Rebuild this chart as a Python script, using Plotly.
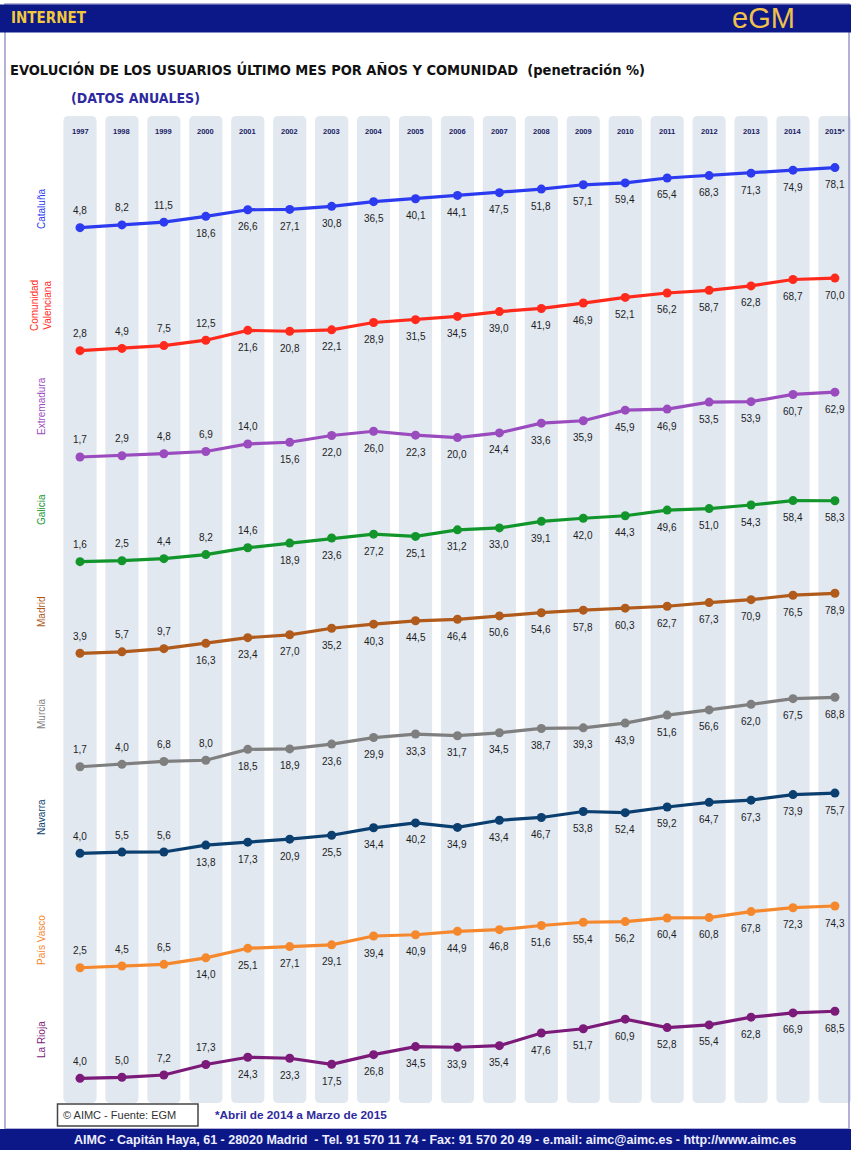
import plotly.graph_objects as go

# ---------------- data ----------------
years = ["1997", "1998", "1999", "2000", "2001", "2002", "2003", "2004", "2005", "2006",
         "2007", "2008", "2009", "2010", "2011", "2012", "2013", "2014", "2015*"]

regions = ["Cataluña", "Comunidad<br>Valenciana", "Extremadura", "Galicia", "Madrid",
           "Murcia", "Navarra", "País Vasco", "La Rioja"]

cataluna = [4.8, 8.2, 11.5, 18.6, 26.6, 27.1, 30.8, 36.5, 40.1, 44.1, 47.5, 51.8, 57.1, 59.4, 65.4, 68.3, 71.3, 74.9, 78.1]
valenciana = [2.8, 4.9, 7.5, 12.5, 21.6, 20.8, 22.1, 28.9, 31.5, 34.5, 39.0, 41.9, 46.9, 52.1, 56.2, 58.7, 62.8, 68.7, 70.0]
extremadura = [1.7, 2.9, 4.8, 6.9, 14.0, 15.6, 22.0, 26.0, 22.3, 20.0, 24.4, 33.6, 35.9, 45.9, 46.9, 53.5, 53.9, 60.7, 62.9]
galicia = [1.6, 2.5, 4.4, 8.2, 14.6, 18.9, 23.6, 27.2, 25.1, 31.2, 33.0, 39.1, 42.0, 44.3, 49.6, 51.0, 54.3, 58.4, 58.3]
madrid = [3.9, 5.7, 9.7, 16.3, 23.4, 27.0, 35.2, 40.3, 44.5, 46.4, 50.6, 54.6, 57.8, 60.3, 62.7, 67.3, 70.9, 76.5, 78.9]
murcia = [1.7, 4.0, 6.8, 8.0, 18.5, 18.9, 23.6, 29.9, 33.3, 31.7, 34.5, 38.7, 39.3, 43.9, 51.6, 56.6, 62.0, 67.5, 68.8]
navarra = [4.0, 5.5, 5.6, 13.8, 17.3, 20.9, 25.5, 34.4, 40.2, 34.9, 43.4, 46.7, 53.8, 52.4, 59.2, 64.7, 67.3, 73.9, 75.7]
pais_vasco = [2.5, 4.5, 6.5, 14.0, 25.1, 27.1, 29.1, 39.4, 40.9, 44.9, 46.8, 51.6, 55.4, 56.2, 60.4, 60.8, 67.8, 72.3, 74.3]
la_rioja = [4.0, 5.0, 7.2, 17.3, 24.3, 23.3, 17.5, 26.8, 34.5, 33.9, 35.4, 47.6, 51.7, 60.9, 52.8, 55.4, 62.8, 66.9, 68.5]

series = [cataluna, valenciana, extremadura, galicia, madrid, murcia, navarra, pais_vasco, la_rioja]

# ---------------- styling / layout (pixels) ----------------
W, H = 851, 1150
colors = ["#2d3bf0", "#ff2a1c", "#9a4cbf", "#12962c", "#b05a1c", "#7f7f7f", "#0b3f6f", "#f5882c", "#7b1a79"]
label_colors = colors
zero_px = [231.6, 353.7, 458.8, 563.4, 656.4, 768.5, 856.7, 969.9, 1082.5]
scale_px = [0.82, 1.08, 1.06, 1.075, 0.80, 1.035, 0.84, 0.86, 1.04]
n_above = [3, 4, 5, 5, 3, 4, 3, 3, 4]
label_center_px = [209, 306, 406, 510, 612, 714, 817, 940, 1040]

x0_px, step_px = 80.0, 41.94
NARROW = "Liberation Sans Narrow, DejaVu Sans Condensed, Arial Narrow, sans-serif"
SANS = "Liberation Sans, Arial, sans-serif"


def pxx(p):
    return p / W


def pyy(p):
    return 1 - p / H


fig = go.Figure()

layout = dict(
    width=W, height=H,
    margin=dict(l=0, r=0, t=0, b=0),
    paper_bgcolor="white", plot_bgcolor="rgba(0,0,0,0)",
    showlegend=False,
    xaxis=dict(domain=[0, 1], range=[-x0_px / step_px, (W - x0_px) / step_px],
               visible=False, fixedrange=True),
)

annotations = []
shapes = []

for k, vals in enumerate(series):
    yname = "y" if k == 0 else f"y{k + 1}"
    axname = "yaxis" if k == 0 else f"yaxis{k + 1}"
    z, s = zero_px[k], scale_px[k]
    layout[axname] = dict(domain=[pyy(z + 8), pyy(z - s * 85)], range=[-8 / s, 85],
                          visible=False, anchor="x", fixedrange=True)
    xs = list(range(len(years)))
    fig.add_trace(go.Scatter(
        x=xs, y=vals, xaxis="x", yaxis=yname, mode="lines+markers",
        line=dict(color=colors[k], width=3.2),
        marker=dict(color=colors[k], size=9),
        cliponaxis=False, hoverinfo="skip",
    ))
    for i, v in enumerate(vals):
        annotations.append(dict(
            x=i, y=v, xref="x", yref=yname, showarrow=False,
            xanchor="center", yanchor="middle",
            text=f"{v:.1f}".replace(".", ","),
            yshift=17 if i < n_above[k] else -17,
            font=dict(family=SANS, size=10, color="#1e1e1e"),
        ))
    # region label (rotated)
    annotations.append(dict(
        x=pxx(41), y=pyy(label_center_px[k]), xref="paper", yref="paper",
        xanchor="center", yanchor="middle",
        text=regions[k], textangle=-90, showarrow=False,
        font=dict(family=SANS, size=10, color=label_colors[k]),
        align="center",
    ))

# year columns (rounded rectangles positioned on the x axis)
col_top, col_bot = pyy(116), pyy(1103)
hw, rx, ry = 0.395, 0.12, 5 / H
for i, yr in enumerate(years):
    a, b = i - hw, i + hw
    path = (f"M {a + rx},{col_top} L {b - rx},{col_top} Q {b},{col_top} {b},{col_top - ry} "
            f"L {b},{col_bot + ry} Q {b},{col_bot} {b - rx},{col_bot} "
            f"L {a + rx},{col_bot} Q {a},{col_bot} {a},{col_bot + ry} "
            f"L {a},{col_top - ry} Q {a},{col_top} {a + rx},{col_top} Z")
    shapes.append(dict(type="path", path=path, xref="x", yref="paper",
                       fillcolor="#e1e8f0", line=dict(width=0), layer="below"))
    annotations.append(dict(
        x=i, y=pyy(131), xref="x", yref="paper", text=f"<b>{yr}</b>", showarrow=False,
        xanchor="center", yanchor="middle",
        font=dict(family=SANS, size=7.5, color="#1c1c66"),
    ))

# frame, header and footer bars
shapes.append(dict(type="rect", xref="paper", yref="paper", x0=pxx(5), x1=pxx(849),
                   y0=pyy(1129), y1=pyy(4), line=dict(color="#9a98c8", width=1.5),
                   fillcolor="rgba(0,0,0,0)", layer="below"))
shapes.append(dict(type="rect", xref="paper", yref="paper", x0=0, x1=1,
                   y0=pyy(32.5), y1=pyy(4.5), line=dict(width=0), fillcolor="#0c1888", layer="above"))
shapes.append(dict(type="rect", xref="paper", yref="paper", x0=0, x1=1,
                   y0=0, y1=pyy(1129), line=dict(width=0), fillcolor="#0c1888", layer="above"))
# source box
shapes.append(dict(type="rect", xref="paper", yref="paper", x0=pxx(57.5), x1=pxx(198),
                   y0=pyy(1126), y1=pyy(1104), line=dict(color="#444444", width=1.5),
                   fillcolor="white", layer="above"))

annotations += [
    dict(x=pxx(9), y=pyy(18.5), xref="paper", yref="paper", xanchor="left", yanchor="middle",
         showarrow=False, text="<b>INTERNET</b>",
         font=dict(family=NARROW, size=15, color="#f2c83c")),
    dict(x=pxx(763), y=pyy(18), xref="paper", yref="paper", xanchor="center", yanchor="middle",
         showarrow=False, text="eGM",
         font=dict(family=SANS, size=29, color="#f0c04c")),
    dict(x=pxx(8), y=pyy(70), xref="paper", yref="paper", xanchor="left", yanchor="middle",
         showarrow=False,
         text="<b>EVOLUCIÓN DE LOS USUARIOS ÚLTIMO MES POR AÑOS Y COMUNIDAD  (penetración %)</b>",
         font=dict(family=NARROW, size=14.5, color="#111111")),
    dict(x=pxx(69), y=pyy(98), xref="paper", yref="paper", xanchor="left", yanchor="middle",
         showarrow=False, text="<b>(DATOS ANUALES)</b>",
         font=dict(family=NARROW, size=14, color="#2e2a9e")),
    dict(x=pxx(61), y=pyy(1115), xref="paper", yref="paper", xanchor="left", yanchor="middle",
         showarrow=False, text="© AIMC - Fuente: EGM",
         font=dict(family=SANS, size=11, color="#333333")),
    dict(x=pxx(213), y=pyy(1115), xref="paper", yref="paper", xanchor="left", yanchor="middle",
         showarrow=False, text="<b>*Abril de 2014 a Marzo de 2015</b>",
         font=dict(family=SANS, size=11.8, color="#2e2a9e")),
    dict(x=pxx(435), y=pyy(1140), xref="paper", yref="paper", xanchor="center", yanchor="middle",
         showarrow=False,
         text="<b>AIMC - Capitán Haya, 61 - 28020 Madrid  - Tel. 91 570 11 74 - Fax: 91 570 20 49 - e.mail: aimc@aimc.es - http://www.aimc.es</b>",
         font=dict(family=SANS, size=12.5, color="#eeeeff")),
]

layout["annotations"] = annotations
layout["shapes"] = shapes
fig.update_layout(**layout)
fig.write_html("out.html", config={"displayModeBar": False},
               post_script="document.body.style.margin='0';document.body.style.padding='0';")
